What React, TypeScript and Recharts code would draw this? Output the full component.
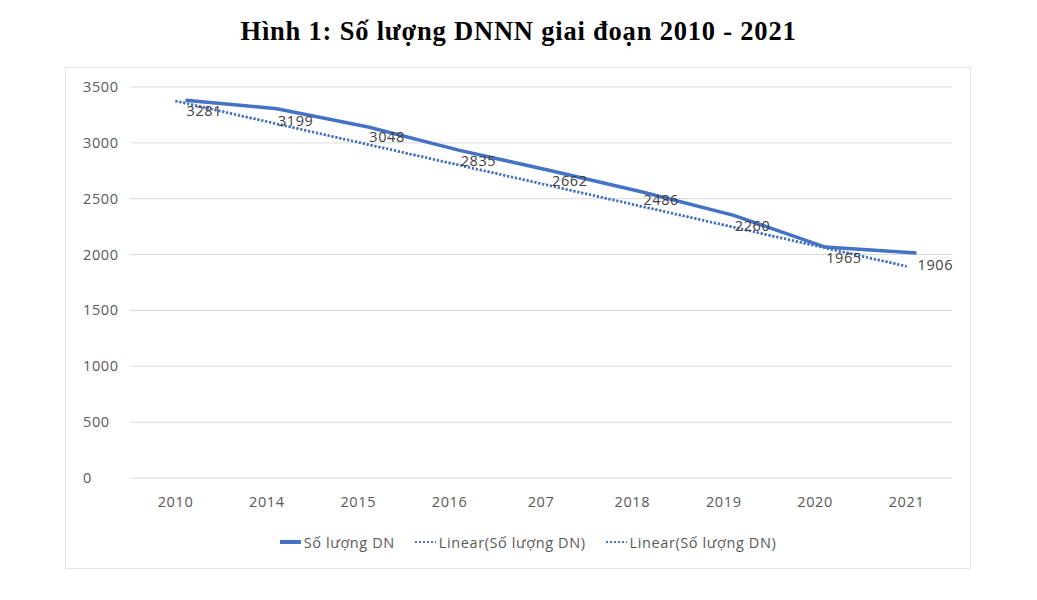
import React from "react";
import {
  LineChart,
  Line,
  XAxis,
  YAxis,
  CartesianGrid,
  Legend,
  LabelList,
} from "recharts";

// categories as printed on the axis (incl. the "207" typo of the source)
const years = ["2010", "2014", "2015", "2016", "207", "2018", "2019", "2020", "2021"];
// solid line as drawn
const soLuongDN = [3381, 3306, 3142, 2933, 2750, 2560, 2351, 2067, 2013];
// data label values (labels sit at these heights)
const labelValues = [3281, 3199, 3048, 2835, 2662, 2486, 2260, 1965, 1906];
// linear trendline as drawn
const linearTrend = [3375, 3190, 3005, 2820, 2635, 2450, 2265, 2080, 1895];
const yTicks = [0, 500, 1000, 1500, 2000, 2500, 3000, 3500];

const BLUE = "#4472C4";
const FONT = "'Open Sans', sans-serif";
const FS = 14.5;
const LS = 0.6;

const data = years.map((y, i) => ({
  year: y,
  dn: soLuongDN[i],
  lbl: labelValues[i],
  trend1: linearTrend[i],
  trend2: linearTrend[i],
}));

const YTick = (props: any) => {
  const { y, payload } = props;
  return (
    <text x={83} y={y} dy={5} textAnchor="start" fill="#595959" fontSize={FS} letterSpacing={LS} fontFamily={FONT}>
      {payload.value}
    </text>
  );
};

const XTick = (props: any) => {
  const { x, y, payload } = props;
  return (
    <text x={x} y={y} dy={15} textAnchor="middle" fill="#595959" fontSize={FS} letterSpacing={LS} fontFamily={FONT}>
      {payload.value}
    </text>
  );
};

const ValueLabel = (props: any) => {
  const { x, y, value } = props;
  return (
    <text x={x + 1} y={y} dy={5} textAnchor="start" fill="#404040" fontSize={FS} letterSpacing={LS} fontFamily={FONT}>
      {value}
    </text>
  );
};

const legendItems = [
  { name: "Số lượng DN", dashed: false },
  { name: "Linear(Số lượng DN)", dashed: true },
  { name: "Linear(Số lượng DN)", dashed: true },
];

const LegendContent = () => (
  <div
    style={{
      display: "flex",
      justifyContent: "center",
      gap: 20,
      height: 20,
      alignItems: "center",
      fontFamily: FONT,
      fontSize: FS,
      letterSpacing: LS,
      color: "#595959",
      paddingLeft: 104,
    }}
  >
    {legendItems.map((it, i) => (
      <div key={i} style={{ display: "flex", alignItems: "center" }}>
        <svg width={21} height={6} style={{ marginRight: 3 }}>
          <line
            x1={0}
            y1={3}
            x2={21}
            y2={3}
            stroke={BLUE}
            strokeWidth={it.dashed ? 2 : 4}
            strokeDasharray={it.dashed ? "2 2" : undefined}
          />
        </svg>
        <span>{it.name}</span>
      </div>
    ))}
  </div>
);

export default function App() {
  return (
    <div style={{ position: "absolute", left: 0, top: 0, width: 1037, height: 600, background: "#fff" }}>
      <div
        style={{
          position: "absolute",
          top: 16,
          left: 0,
          width: 1037,
          textAlign: "center",
          fontFamily: "'Liberation Serif', 'Times New Roman', serif",
          fontWeight: "bold",
          fontSize: 26.5,
          letterSpacing: 0.8,
          color: "#000",
        }}
      >
        Hình 1: Số lượng DNNN giai đoạn 2010 - 2021
      </div>
      <div
        style={{
          position: "absolute",
          left: 65,
          top: 67,
          width: 904,
          height: 500,
          border: "1px solid #e4e4e4",
        }}
      />
      <div style={{ position: "absolute", left: 0, top: 0 }}>
        <LineChart width={1037} height={600} data={data} margin={{ top: 87, right: 85, left: 0, bottom: 48 }}>
          <CartesianGrid vertical={false} stroke="#d9d9d9" />
          <XAxis
            dataKey="year"
            axisLine={false}
            tickLine={false}
            padding={{ left: 45.5, right: 45.5 }}
            tick={<XTick />}
            tickMargin={8}
            height={54}
            interval={0}
          />
          <XAxis xAxisId="s" dataKey="year" hide padding={{ left: 55.5, right: 35.5 }} />
          <YAxis
            domain={[0, 3500]}
            ticks={yTicks}
            width={130}
            axisLine={false}
            tickLine={false}
            tick={<YTick />}
          />
          <Legend verticalAlign="bottom" content={<LegendContent />} />
          <Line
            dataKey="trend1"
            stroke={BLUE}
            strokeWidth={2.5}
            strokeDasharray="2 2"
            dot={false}
            isAnimationActive={false}
          />
          <Line
            dataKey="trend2"
            stroke={BLUE}
            strokeWidth={2.5}
            strokeDasharray="2 2"
            dot={false}
            isAnimationActive={false}
          />
          <Line
            xAxisId="s"
            dataKey="dn"
            stroke={BLUE}
            strokeWidth={3.5}
            dot={false}
            isAnimationActive={false}
          />
          <Line
            xAxisId="s"
            dataKey="lbl"
            stroke="none"
            dot={false}
            isAnimationActive={false}
          >
            <LabelList dataKey="lbl" content={<ValueLabel />} />
          </Line>
        </LineChart>
      </div>
    </div>
  );
}
